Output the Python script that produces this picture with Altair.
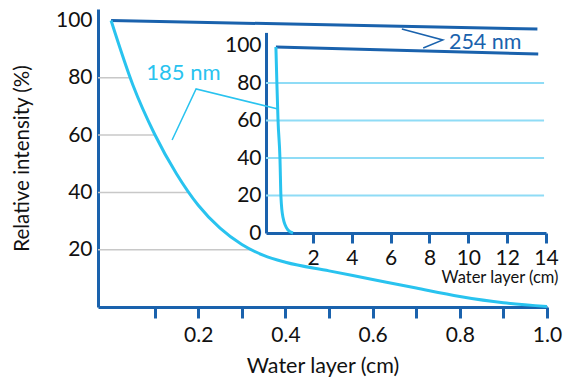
import altair as alt
import pandas as pd

# ---------------- data ----------------
main_x = [0.0, 0.05, 0.1, 0.15, 0.2, 0.25, 0.3, 0.35, 0.4, 0.5, 0.6, 0.7, 0.8, 0.9, 1.0]
main_185 = [100, 77.5, 60.3, 46.5, 35.5, 27.5, 21.8, 18.0, 15.6, 12.6, 9.6, 6.6, 3.7, 1.5, 0.2]
main_254_x = [0.0, 0.978]
main_254 = [100, 97]
main_grid_y = [20, 40, 60, 80]
main_grid_end = [0.325, 0.18, 0.101, 0.043]

inset_x = [0.09, 0.14, 0.20, 0.30, 0.35, 0.45, 0.71, 0.97]
inset_185 = [99.2, 80, 60, 39.5, 19.2, 8.5, 1.6, 0]
inset_254_x = [0.09, 13.6]
inset_254 = [99.2, 95.5]
inset_grid_y = [20, 40, 60, 80]

main_x_ticks = [0.1, 0.2, 0.3, 0.4, 0.5, 0.6, 0.7, 0.8, 0.9, 1.0]
main_y_ticks = [20, 40, 60, 80, 100]
inset_x_ticks = [2, 4, 6, 8, 10, 12, 14]
inset_y_ticks = [0, 20, 40, 60, 80, 100]

label_text = ["185 nm", "254 nm"]
label_x = [0.166, 0.775]
label_y = [81.6, 92.1]
leader_185_x = [0.14, 0.195, 0.383]
leader_185_y = [58.3, 76.1, 69.1]
leader_254_x = [0.667, 0.761, 0.716]
leader_254_y = [97.0, 93.2, 90.4]

# ---------------- style ----------------
DARK = "#1a62ad"
CYAN = "#29c3ef"
LIGHT = "#8fdcf6"
GRAY = "#c8c8c8"
FONT = "Lato"
TXT = "#111111"

W, H = 449, 298

XS = alt.Scale(domain=[-0.03, 1.0], nice=False, zero=False)
YS = alt.Scale(domain=[0, 104], nice=False, zero=False)

X_AX = alt.Axis(
    values=main_x_ticks,
    labelExpr="round(datum.value*10) % 2 == 0 ? format(datum.value, '.1f') : ''",
    domainColor=DARK, domainWidth=3, tickColor=DARK, tickWidth=3, tickSize=11,
    labelFontSize=21, labelColor=TXT, labelPadding=6, labelFont=FONT,
    labelFlush=False, labelOverlap=False, grid=False,
    title="Water layer (cm)", titleFontSize=21.5, titleFontWeight="normal", titleFont=FONT,
    titleColor=TXT, titleX=W / 2, titleY=59, titleBaseline="middle", titleAlign="center",
)
Y_AX = alt.Axis(
    values=main_y_ticks, ticks=False, labelPadding=6,
    domainColor=DARK, domainWidth=3, grid=False,
    labelFontSize=21, labelColor=TXT, labelFont=FONT,
    title="Relative intensity (%)", titleFontSize=20.5, titleFontWeight="normal", titleFont=FONT,
    titleColor=TXT, titleX=-76, titleY=H / 2, titleBaseline="middle", titleAlign="center",
    titleAngle=270,
)

df185 = pd.DataFrame({"x": main_x, "y": main_185})
df254 = pd.DataFrame({"x": main_254_x, "y": main_254})
dfgrid = pd.DataFrame({"x": [-0.03] * len(main_grid_y), "x2": main_grid_end, "y": main_grid_y})
dflab = pd.DataFrame({"x": label_x, "y": label_y, "t": label_text})
dfl185 = pd.DataFrame({"x": leader_185_x, "y": leader_185_y, "o": [0, 1, 2]})
dfl254 = pd.DataFrame({"x": leader_254_x, "y": leader_254_y, "o": [0, 1, 2]})

mx = alt.X("x:Q", scale=XS, axis=X_AX)
my = alt.Y("y:Q", scale=YS, axis=Y_AX)

grid_main = alt.Chart(dfgrid).mark_rule(color=GRAY, strokeWidth=1.5).encode(x=mx, x2="x2:Q", y=my)
line254 = alt.Chart(df254).mark_line(color=DARK, strokeWidth=3).encode(x=mx, y=my)
line185 = alt.Chart(df185).mark_line(color=CYAN, strokeWidth=3, interpolate="monotone").encode(x=mx, y=my)
lead185 = alt.Chart(dfl185).mark_line(color=CYAN, strokeWidth=1.5).encode(x=mx, y=my, order="o:Q")
lead254 = alt.Chart(dfl254).mark_line(color=DARK, strokeWidth=1.5).encode(x=mx, y=my, order="o:Q")
lab185 = alt.Chart(dflab.iloc[[0]]).mark_text(font=FONT, fontSize=22, color=CYAN, align="center", baseline="middle").encode(x=mx, y=my, text="t:N")
lab254 = alt.Chart(dflab.iloc[[1]]).mark_text(font=FONT, fontSize=21.5, color=DARK, align="left", baseline="middle").encode(x=mx, y=my, text="t:N")

main = alt.layer(grid_main, line254, line185, lead185, lead254, lab185, lab254)

# ---------------- inset ----------------
IXS = alt.Scale(domain=[-0.42, 14], range=[168, 448], nice=False, zero=False)
IYS = alt.Scale(domain=[0, 107], range=[224, 23.4], nice=False, zero=False)

IX_AX = alt.Axis(
    orient="bottom", offset=-74, values=inset_x_ticks, format="d",
    domainColor=DARK, domainWidth=3, tickColor=DARK, tickWidth=3, tickSize=10,
    labelFontSize=21, labelColor=TXT, labelPadding=4, labelFont=FONT, labelFlush=False,
    labelOverlap=False, grid=False,
    title="Water layer (cm)", titleFontSize=16.5, titleFontWeight="normal", titleFont=FONT,
    titleColor=TXT, titleX=460, titleY=44, titleAlign="right", titleBaseline="middle",
)
IY_AX = alt.Axis(
    orient="left", offset=-168, values=inset_y_ticks, ticks=False, labelPadding=5,
    domainColor=DARK, domainWidth=3, grid=False,
    labelFontSize=21, labelColor=TXT, labelFont=FONT, title=None,
)

dfi185 = pd.DataFrame({"x": inset_x, "y": inset_185})
dfi254 = pd.DataFrame({"x": inset_254_x, "y": inset_254})
dfigrid = pd.DataFrame({"x": [-0.42] * len(inset_grid_y), "x2": [13.9] * len(inset_grid_y), "y": inset_grid_y})

ix = alt.X("x:Q", scale=IXS, axis=IX_AX)
iy = alt.Y("y:Q", scale=IYS, axis=IY_AX)

igrid = alt.Chart(dfigrid).mark_rule(color=LIGHT, strokeWidth=2).encode(x=ix, x2="x2:Q", y=iy)
i254 = alt.Chart(dfi254).mark_line(color=DARK, strokeWidth=3).encode(x=ix, y=iy)
i185 = alt.Chart(dfi185).mark_line(color=CYAN, strokeWidth=3, interpolate="monotone").encode(x=ix, y=iy)

inset = alt.layer(igrid, i254, i185)

chart = alt.layer(main, inset).resolve_scale(x="independent", y="independent").properties(
    width=W, height=H,
    autosize=alt.AutoSizeParams(type="none"),
    padding={"left": 98, "top": 9, "right": 21, "bottom": 75},
    background="white",
).configure_view(stroke=None)

chart.save("out.html", embed_options={"renderer": "svg", "actions": False})
